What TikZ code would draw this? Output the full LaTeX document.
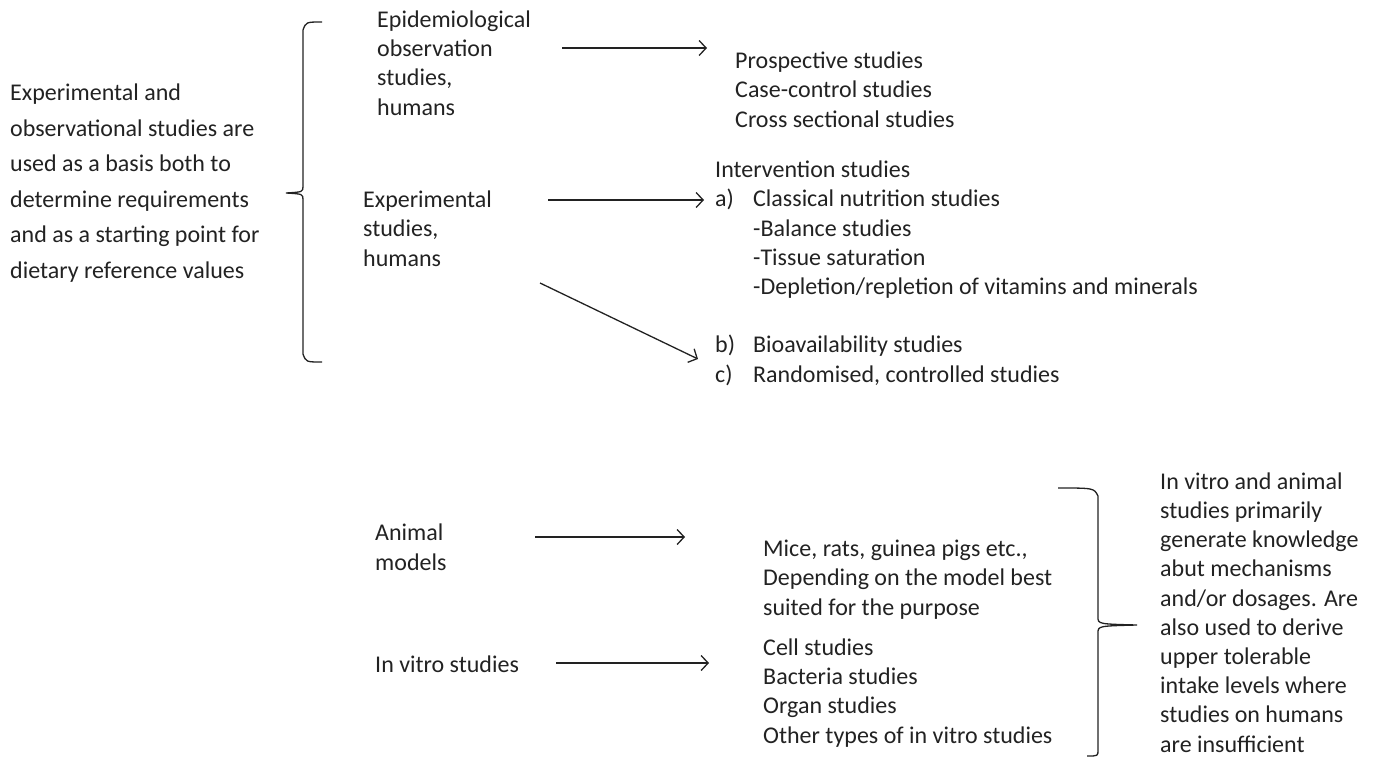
\documentclass[tikz,border=0pt]{standalone}
\usepackage{fontspec}
\setmainfont{Carlito}
\usetikzlibrary{arrows.meta}
\definecolor{ink}{HTML}{222222}
\tikzset{
  txt/.style={anchor=base west, inner sep=0pt, align=left, text=ink,
    font=\fontsize{24}{29.2}\selectfont},
  wide/.style={font=\fontsize{24}{35.5}\selectfont},
  arr/.style={draw=ink, line width=1.3pt, -{Straight Barb[length=7pt,width=15pt,line width=1.3pt]}},
  brace/.style={draw=ink, line width=1.3pt}
}
\begin{document}
\begin{tikzpicture}[x=1pt,y=-1pt]
\useasboundingbox (0,0) rectangle (1381,763);
% left block (anchor = baseline of last line)
\node[txt,wide] (basis) at (10,278) {Experimental and\\observational studies are\\used as a basis both to\\determine requirements\\and as a starting point for\\dietary reference values};
% left brace
\coordinate (lbt) at (322,22);
\coordinate (lbb) at (322,362);
\coordinate (lbtip) at (286,193);
\draw[brace] (lbt) .. controls (306,22) .. (303,30) -- (303,186)
  .. controls (303,192) .. (lbtip) .. controls (303,194) .. (303,200)
  -- (303,354) .. controls (306,362) .. (lbb);
% epidemiological
\node[txt] (epi) at (377,115) {Epidemiological\\observation\\studies,\\humans};
\node[txt] (prosp) at (735,127) {Prospective studies\\Case-control studies\\Cross sectional studies};
\coordinate (a1s) at (562,48);
\coordinate (a1e) at (707,48);
\draw[arr] (a1s) -- (a1e);
% experimental
\node[txt] (exp) at (363,266) {Experimental\\studies,\\humans};
\node[txt] (interv) at (715,382) {Intervention studies\\
\makebox[38pt][l]{a)}Classical nutrition studies\\
\hspace*{38pt}-Balance studies\\
\hspace*{38pt}-Tissue saturation\\
\hspace*{38pt}-Depletion/repletion of vitamins and minerals\\[29.2pt]
\makebox[38pt][l]{b)}Bioavailability studies\\
\makebox[38pt][l]{c)}Randomised, controlled studies};
\coordinate (a2s) at (548,200);
\coordinate (a2e) at (704,200);
\draw[arr] (a2s) -- (a2e);
\coordinate (a3s) at (540,283);
\coordinate (a3e) at (698,359);
\draw[arr] (a3s) -- (a3e);
% animal models
\node[txt] (animal) at (375,570) {Animal\\models};
\node[txt] (mice) at (763,615) {Mice, rats, guinea pigs etc.,\\Depending on the model best\\suited for the purpose};
\coordinate (a4s) at (535,537);
\coordinate (a4e) at (685,537);
\draw[arr] (a4s) -- (a4e);
% in vitro
\node[txt] (vitro) at (375,672) {In vitro studies};
\node[txt] (cells) at (763,743) {Cell studies\\Bacteria studies\\Organ studies\\Other types of in vitro studies};
\coordinate (a5s) at (556,663);
\coordinate (a5e) at (709,663);
\draw[arr] (a5s) -- (a5e);
% right brace
\coordinate (rbt) at (1058,488);
\coordinate (rbb) at (1087,756);
\coordinate (rbtip) at (1137,625);
\draw[brace] (rbt) .. controls (1094,488) .. (1098,496) -- (1098,617)
  .. controls (1098,624) .. (rbtip) .. controls (1098,626) .. (1098,633)
  -- (1098,750) .. controls (1098,756) .. (rbb);
\node[txt] (concl) at (1160,752) {In vitro and animal\\studies primarily\\generate knowledge\\abut mechanisms\\and/or dosages. Are\\also used to derive\\upper tolerable\\intake levels where\\studies on humans\\are insufficient};
\end{tikzpicture}
\end{document}
